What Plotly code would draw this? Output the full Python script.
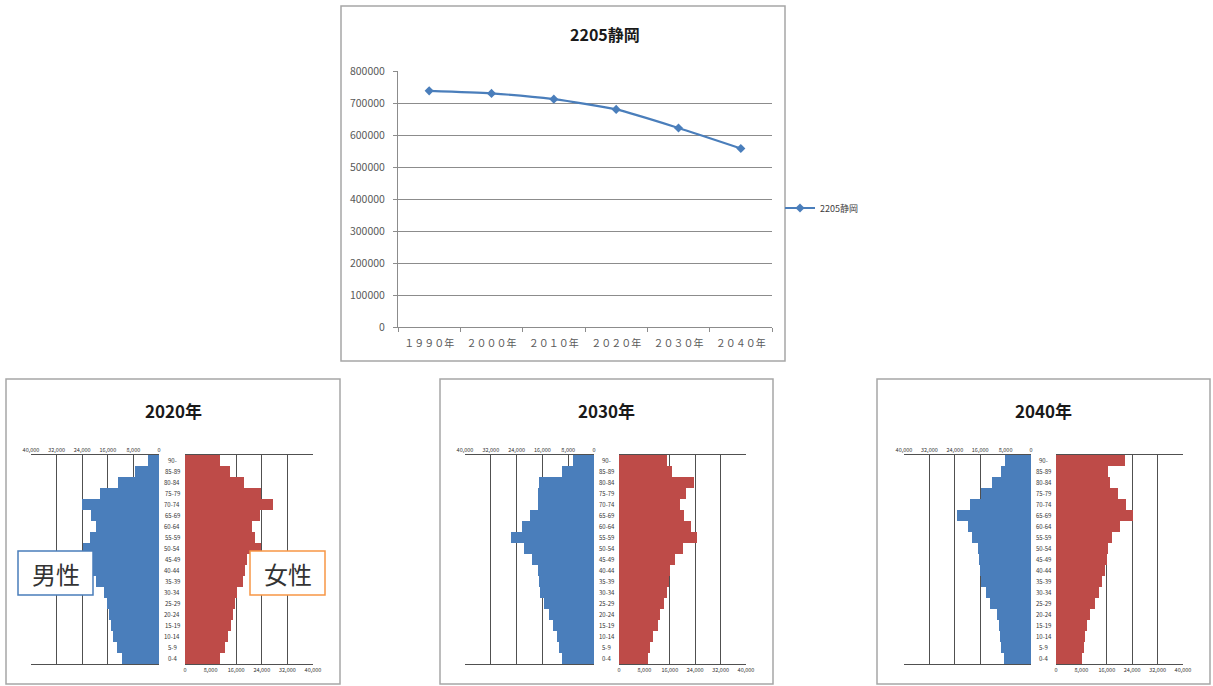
import plotly.graph_objects as go

W, H = 1213, 686

# ---------------- data ----------------
years = ["１９９０年", "２０００年", "２０１０年", "２０２０年", "２０３０年", "２０４０年"]
total_pop = [738000, 730000, 712000, 680000, 622000, 558000]
series_name = "2205静岡"

ages = ["0-4", "5-9", "10-14", "15-19", "20-24", "25-29", "30-34", "35-39", "40-44",
        "45-49", "50-54", "55-59", "60-64", "65-69", "70-74", "75-79", "80-84", "85-89", "90-"]

male_2020 = [11500, 13000, 14300, 15100, 15700, 16400, 17100, 19800, 20600, 22000,
             23700, 21600, 19800, 21300, 24000, 18500, 12800, 7600, 3400]
female_2020 = [10900, 12500, 13500, 14300, 15100, 15600, 16100, 18200, 18900, 19500,
               23700, 22000, 20800, 23400, 27500, 23700, 18500, 14000, 10900]
male_2030 = [10000, 10700, 11400, 12800, 13800, 15600, 16900, 17200, 17500, 19300,
             21600, 25600, 22400, 19700, 17500, 17500, 17100, 10000, 6500]
female_2030 = [9200, 9800, 10600, 12200, 13000, 14300, 15200, 15800, 16100, 17500,
               20000, 24600, 22600, 20500, 19300, 21000, 23500, 16800, 15000]
male_2040 = [8400, 9300, 9800, 10100, 10800, 12900, 14300, 15600, 16100, 16400,
             16600, 18500, 20000, 23200, 19300, 15800, 12400, 9500, 8200]
female_2040 = [8300, 8900, 9200, 9700, 10700, 12300, 13400, 14600, 15500, 16000,
               16300, 17600, 20200, 24100, 22000, 19500, 17100, 16500, 21600]

pyramid_titles = ["2020年", "2030年", "2040年"]
males = [male_2020, male_2030, male_2040]
females = [female_2020, female_2030, female_2040]
x_ticks = [0, 8000, 16000, 24000, 32000, 40000]

# ---------------- helpers ----------------
def fx(px):
    return px / W

def fy(py):
    return 1 - py / H

FONT = "Noto Sans CJK JP, Noto Sans, sans-serif"
BLUE = "#4a7ebb"
RED = "#be4b48"
GRID_DARK = "#505050"

fig = go.Figure()

# ---------------- top line chart ----------------
fig.add_trace(go.Scatter(
    x=years, y=total_pop, mode="lines+markers", name=series_name,
    line=dict(color=BLUE, width=2.2, shape="spline", smoothing=0.6),
    marker=dict(symbol="diamond", size=7, color=BLUE),
    xaxis="x", yaxis="y", showlegend=True,
))

layout = dict(
    width=W, height=H,
    margin=dict(l=0, r=0, t=0, b=0, pad=0, autoexpand=False),
    paper_bgcolor="white", plot_bgcolor="white",
    font=dict(family=FONT, color="#404040"),
    showlegend=True,
    legend=dict(x=fx(780), y=fy(208), xanchor="left", yanchor="middle",
                font=dict(size=9, color="#404040"), bgcolor="rgba(0,0,0,0)",
                itemwidth=30),
    xaxis=dict(domain=[fx(398), fx(772)], type="category", range=[-0.5, 5.5],
               showline=True, linecolor="#8c8c8c", linewidth=1,
               ticks="outside", ticklen=4, tickcolor="#8c8c8c", tickson="boundaries",
               tickfont=dict(size=10, color="#595959"), ticklabelstandoff=7,
               showgrid=False, anchor="y", fixedrange=True),
    yaxis=dict(domain=[fy(327), fy(71)], range=[0, 800000], dtick=100000,
               tickformat="d", showline=True, linecolor="#8c8c8c", linewidth=1,
               ticks="outside", ticklen=4, tickcolor="#8c8c8c", ticklabelstandoff=6,
               showgrid=True, gridcolor="#8c8c8c", gridwidth=1,
               tickfont=dict(size=10.5, color="#595959"), zeroline=False,
               anchor="x", fixedrange=True),
)

shapes = []
annotations = []

# top panel border + title
shapes.append(dict(type="rect", xref="paper", yref="paper",
                   x0=fx(341), x1=fx(785), y0=fy(361), y1=fy(6),
                   line=dict(color="#a6a6a6", width=1.5), fillcolor="rgba(0,0,0,0)"))
annotations.append(dict(text="<b>2205静岡</b>", xref="paper", yref="paper",
                        x=fx(605), y=fy(34), showarrow=False,
                        xanchor="center", yanchor="middle",
                        font=dict(size=16, color="#1a1a1a", family=FONT)))

# ---------------- pyramids ----------------
panels = [
    dict(box=(6, 340), male=(31, 159), female=(185, 313), title_x=173),
    dict(box=(440, 773), male=(465, 594), female=(619, 746), title_x=606),
    dict(box=(877, 1210), male=(904, 1031), female=(1056, 1183), title_x=1043),
]
py_top, py_bot = 455, 664

for i, p in enumerate(panels):
    am = 2 + 2 * i
    af = am + 1
    fig.add_trace(go.Bar(
        y=ages, x=males[i], orientation="h", marker=dict(color=BLUE, line=dict(width=0)),
        xaxis=f"x{am}", yaxis=f"y{am}", showlegend=False, name="男性",
    ))
    fig.add_trace(go.Bar(
        y=ages, x=females[i], orientation="h", marker=dict(color=RED, line=dict(width=0)),
        xaxis=f"x{af}", yaxis=f"y{af}", showlegend=False, name="女性",
    ))
    common_x = dict(tickvals=x_ticks, tickformat=",d",
                    showgrid=True, gridcolor=GRID_DARK, gridwidth=1,
                    showline=True, mirror=True, linecolor=GRID_DARK, linewidth=1,
                    zeroline=False, ticks="", tickfont=dict(size=5.5, color="#333333"),
                    fixedrange=True)
    layout[f"xaxis{am}"] = dict(common_x, domain=[fx(p["male"][0]), fx(p["male"][1])],
                                 range=[40000, 0], side="top", anchor=f"y{am}")
    layout[f"xaxis{af}"] = dict(common_x, domain=[fx(p["female"][0]), fx(p["female"][1])],
                                 range=[0, 40000], side="bottom", anchor=f"y{af}")
    common_y = dict(domain=[fy(py_bot), fy(py_top)], type="category", range=[-0.5, 18.5],
                    showticklabels=False, showgrid=False, ticks="", zeroline=False,
                    showline=False, fixedrange=True)
    layout[f"yaxis{am}"] = dict(common_y, anchor=f"x{am}")
    layout[f"yaxis{af}"] = dict(common_y, anchor=f"x{af}")

    # border
    shapes.append(dict(type="rect", xref="paper", yref="paper",
                       x0=fx(p["box"][0]), x1=fx(p["box"][1]), y0=fy(684), y1=fy(379),
                       line=dict(color="#a6a6a6", width=1.5), fillcolor="rgba(0,0,0,0)"))
    # title
    annotations.append(dict(text=f"<b>{pyramid_titles[i]}</b>", xref="paper", yref="paper",
                            x=fx(p["title_x"]), y=fy(410), showarrow=False,
                            xanchor="center", yanchor="middle",
                            font=dict(size=17, color="#1a1a1a", family=FONT)))
    # age labels
    cx = fx((p["male"][1] + p["female"][0]) / 2)
    for a in ages:
        annotations.append(dict(text=a, xref="paper", yref=f"y{am}", x=cx, y=a,
                                showarrow=False, font=dict(size=6, color="#333333"),
                                xanchor="center", yanchor="middle"))

# 男性 / 女性 label boxes
shapes.append(dict(type="rect", xref="paper", yref="paper",
                   x0=fx(18), x1=fx(93), y0=fy(595), y1=fy(551),
                   line=dict(color=BLUE, width=1.5), fillcolor="white"))
shapes.append(dict(type="rect", xref="paper", yref="paper",
                   x0=fx(250), x1=fx(325), y0=fy(595), y1=fy(551),
                   line=dict(color="#f79646", width=1.5), fillcolor="white"))
annotations.append(dict(text="男性", xref="paper", yref="paper", x=fx(55.5), y=fy(573),
                        xanchor="center", yanchor="middle",
                        showarrow=False, font=dict(size=24, color="#333333", family=FONT)))
annotations.append(dict(text="女性", xref="paper", yref="paper", x=fx(287.5), y=fy(573),
                        xanchor="center", yanchor="middle",
                        showarrow=False, font=dict(size=24, color="#333333", family=FONT)))

layout["shapes"] = shapes
layout["annotations"] = annotations
layout["bargap"] = 0
fig.update_layout(**layout)

fig.write_html("out.html",
               config={"displayModeBar": False},
               post_script="document.body.style.margin='0';document.body.style.overflow='hidden';")
